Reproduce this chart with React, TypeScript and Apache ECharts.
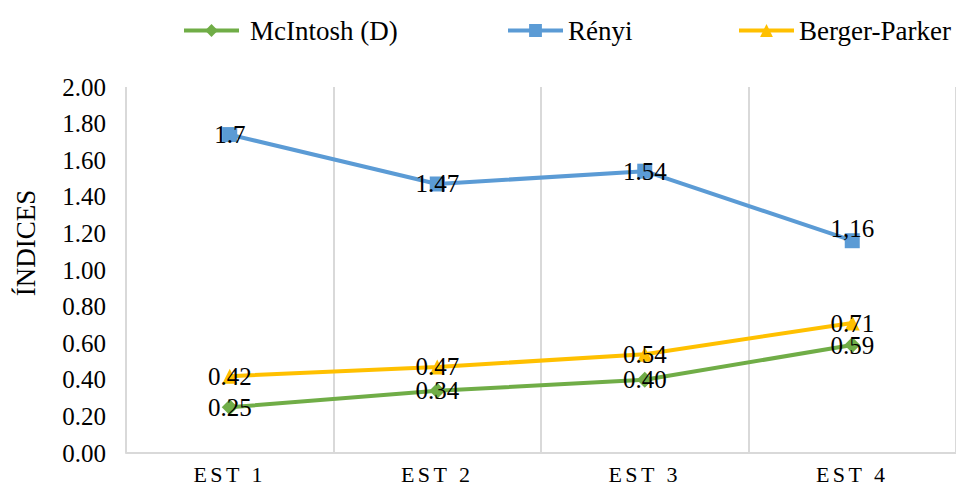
import React, { useEffect, useRef } from "react";
import * as echarts from "echarts";

const categories = ["EST 1", "EST 2", "EST 3", "EST 4"];
const seriesNames = ["McIntosh (D)", "Rényi", "Berger-Parker"];
const mcintosh = [0.25, 0.34, 0.40, 0.59];
const mcintoshLabels = ["0.25", "0.34", "0.40", "0.59"];
const renyi = [1.74, 1.47, 1.54, 1.16];
const renyiLabels = ["1.7", "1.47", "1.54", "1,16"];
const berger = [0.42, 0.47, 0.54, 0.71];
const bergerLabels = ["0.42", "0.47", "0.54", "0.71"];
const yTicks = [0, 0.2, 0.4, 0.6, 0.8, 1.0, 1.2, 1.4, 1.6, 1.8, 2.0];
const yAxisTitle = "ÍNDICES";

const FONT = "Liberation Serif";
const CSS =
  ".chartbox svg text,.chartbox svg tspan{font-family:'Liberation Serif','Times New Roman',serif !important;}" +
  ".chartbox svg text[style*='22px'],.chartbox svg tspan[style*='22px']{letter-spacing:3.5px;}";

export default function App() {
  const ref = useRef<HTMLDivElement>(null);
  useEffect(() => {
    if (!ref.current) return;
    const chart = echarts.init(ref.current, null, { renderer: "svg" });
    const labelStyle = (labels: string[]) => ({
      show: true,
      position: "inside",
      fontFamily: FONT,
      fontSize: 25,
      color: "#000",
      formatter: (p: any) => labels[p.dataIndex],
    });
    const mkData = (vals: number[], offsets: Record<number, number[]> = {}) =>
      vals.map((v, i) =>
        offsets[i] ? { value: v, label: { offset: offsets[i] } } : v
      );
    const legendLefts = [177, 501, 732];
    chart.setOption({
      animation: false,
      textStyle: { fontFamily: FONT, color: "#000" },
      legend: seriesNames.map((n, i) => ({
        top: 12,
        left: legendLefts[i],
        itemWidth: 55,
        itemHeight: 16,
        lineStyle: { width: 4 },
        textStyle: {
          fontFamily: FONT,
          fontSize: 27,
          color: "#000",
          padding: i === 0 ? [0, 0, 0, 6] : [0, 0, 0, 0],
        },
        data: [n],
      })),
      graphic: [
        {
          type: "text",
          x: 26,
          y: 243,
          rotation: Math.PI / 2,
          style: {
            text: yAxisTitle,
            align: "center",
            verticalAlign: "middle",
            fontFamily: FONT,
            fontSize: 27,
            fill: "#000",
          },
        },
      ],
      grid: { left: 126, right: 0, top: 87, bottom: 37 },
      xAxis: {
        type: "category",
        data: categories,
        axisLine: { show: true, lineStyle: { color: "#d9d9d9", width: 2 } },
        axisTick: { show: false },
        splitLine: { show: true, lineStyle: { color: "#d9d9d9", width: 2 } },
        axisLabel: { fontFamily: FONT, fontSize: 22, color: "#000", margin: 10 },
      },
      yAxis: {
        type: "value",
        min: 0,
        max: 2,
        interval: 0.2,
        axisLine: { show: false },
        axisTick: { show: false },
        splitLine: { show: false },
        axisLabel: {
          fontFamily: FONT,
          fontSize: 25,
          color: "#000",
          margin: 20,
          formatter: (v: number) => {
            const t = yTicks.find((x) => Math.abs(x - v) < 1e-6);
            return (t ?? v).toFixed(2);
          },
        },
      },
      series: [
        {
          name: seriesNames[0],
          type: "line",
          data: mkData(mcintosh),
          symbol: "diamond",
          symbolSize: 16,
          itemStyle: { color: "#70ad47" },
          lineStyle: { color: "#70ad47", width: 4 },
          label: labelStyle(mcintoshLabels),
          z: 2,
        },
        {
          name: seriesNames[1],
          type: "line",
          data: mkData(renyi, { 3: [0, -12] }),
          symbol: "rect",
          symbolSize: 15,
          itemStyle: { color: "#5b9bd5" },
          lineStyle: { color: "#5b9bd5", width: 4 },
          label: labelStyle(renyiLabels),
          z: 3,
        },
        {
          name: seriesNames[2],
          type: "line",
          data: mkData(berger),
          symbol: "triangle",
          symbolSize: 15,
          itemStyle: { color: "#ffc000" },
          lineStyle: { color: "#ffc000", width: 4 },
          label: labelStyle(bergerLabels),
          z: 4,
        },
      ],
    });
    return () => chart.dispose();
  }, []);
  return (
    <>
      <style>{CSS}</style>
      <div
        ref={ref}
        className="chartbox"
        style={{ position: "absolute", left: 0, top: 0, width: 956, height: 490 }}
      />
    </>
  );
}
